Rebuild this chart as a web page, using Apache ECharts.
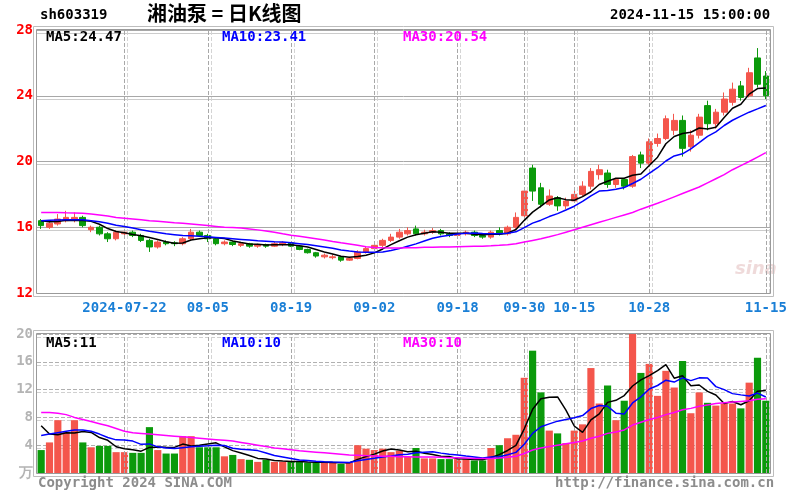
<!DOCTYPE html>
<html><head><meta charset="utf-8">
<script src="https://cdn.jsdelivr.net/npm/echarts/dist/echarts.min.js"></script>
<style>html,body{margin:0;padding:0;background:#fff}#c{width:800px;height:500px}</style>
</head><body><div id="c"></div>
<script>
const dates = [
'2024-07-08','2024-07-09','2024-07-10','2024-07-11','2024-07-12','2024-07-15','2024-07-16','2024-07-17','2024-07-18','2024-07-19',
'2024-07-22','2024-07-23','2024-07-24','2024-07-25','2024-07-26','2024-07-29','2024-07-30','2024-07-31','2024-08-01','2024-08-02',
'2024-08-05','2024-08-06','2024-08-07','2024-08-08','2024-08-09','2024-08-12','2024-08-13','2024-08-14','2024-08-15','2024-08-16',
'2024-08-19','2024-08-20','2024-08-21','2024-08-22','2024-08-23','2024-08-26','2024-08-27','2024-08-28','2024-08-29','2024-08-30',
'2024-09-02','2024-09-03','2024-09-04','2024-09-05','2024-09-06','2024-09-09','2024-09-10','2024-09-11','2024-09-12','2024-09-13',
'2024-09-18','2024-09-19','2024-09-20','2024-09-23','2024-09-24','2024-09-25','2024-09-26','2024-09-27','2024-09-30','2024-10-08',
'2024-10-09','2024-10-10','2024-10-11','2024-10-14','2024-10-15','2024-10-16','2024-10-17','2024-10-18','2024-10-21','2024-10-22',
'2024-10-23','2024-10-24','2024-10-25','2024-10-28','2024-10-29','2024-10-30','2024-10-31','2024-11-01','2024-11-04','2024-11-05',
'2024-11-06','2024-11-07','2024-11-08','2024-11-11','2024-11-12','2024-11-13','2024-11-14','2024-11-15'];

const openP = [16.4,16.0,16.2,16.4,16.5,16.6,15.85,16.0,15.6,15.3,
 15.6,15.7,15.5,15.2,14.8,15.1,15.05,15.0,15.3,15.7,
 15.5,15.3,15.0,15.1,14.9,15.0,14.85,14.95,14.85,14.95,
 15.05,14.85,14.65,14.45,14.2,14.15,14.2,14.0,14.1,14.5,
 14.7,14.9,15.2,15.4,15.6,15.9,15.6,15.7,15.8,15.6,
 15.5,15.6,15.7,15.5,15.4,15.8,15.6,16.0,16.7,19.6,
 18.4,17.4,17.8,17.3,17.6,18.0,18.5,19.2,19.3,18.6,
 18.9,18.5,20.4,19.9,21.1,21.4,21.9,22.5,20.9,21.6,
 23.4,22.3,23.0,23.6,24.6,24.0,26.3,25.2];
const closeP = [16.1,16.25,16.5,16.6,16.6,16.1,16.0,15.6,15.3,15.7,
 15.7,15.5,15.2,14.8,15.1,15.0,15.0,15.3,15.7,15.5,
 15.3,15.0,15.1,14.95,15.0,14.85,14.95,14.85,15.0,15.05,
 14.85,14.65,14.45,14.25,14.3,14.2,14.0,14.1,14.5,14.7,
 14.9,15.2,15.4,15.7,15.8,15.6,15.7,15.8,15.6,15.5,
 15.6,15.7,15.5,15.4,15.7,15.6,16.0,16.6,18.2,18.2,
 17.4,17.9,17.3,17.6,18.0,18.5,19.4,19.5,18.6,18.9,
 18.5,20.3,19.9,21.2,21.4,22.6,22.5,20.8,21.6,22.7,
 22.3,23.0,23.8,24.4,23.9,25.4,24.7,24.0];
const lowP = [15.9,15.9,16.1,16.3,16.3,16.0,15.7,15.5,15.1,15.2,
 15.4,15.4,15.1,14.5,14.7,14.9,14.85,14.9,15.2,15.4,
 15.1,14.9,14.9,14.85,14.8,14.75,14.75,14.75,14.8,14.85,
 14.8,14.6,14.4,14.15,14.1,14.05,13.9,13.95,14.05,14.4,
 14.6,14.8,15.1,15.3,15.5,15.5,15.5,15.6,15.5,15.4,
 15.4,15.5,15.4,15.3,15.3,15.5,15.5,15.9,16.6,17.6,
 17.2,17.3,17.0,17.1,17.5,17.9,18.3,18.9,18.4,18.4,
 18.3,18.4,19.6,19.8,20.9,21.3,21.6,20.3,20.6,21.4,
 21.9,22.0,22.8,23.4,23.7,23.9,24.5,23.8];
const highP = [16.5,16.4,16.8,17.0,16.9,16.7,16.1,16.1,15.7,15.8,
 15.9,15.8,15.6,15.3,15.2,15.2,15.15,15.4,15.9,15.8,
 15.6,15.35,15.2,15.15,15.1,15.05,15.0,15.0,15.1,15.15,
 15.1,14.9,14.7,14.5,14.4,14.35,14.25,14.2,14.6,14.8,
 15.0,15.3,15.6,15.9,16.0,16.1,15.85,15.95,15.9,15.7,
 15.7,15.8,15.8,15.6,15.8,16.0,16.1,16.9,18.25,19.8,
 18.7,18.3,17.9,17.8,18.4,18.8,19.6,19.8,19.5,19.0,
 19.0,20.4,20.6,21.4,21.7,22.8,22.9,22.8,21.9,22.9,
 23.7,23.2,24.2,24.8,24.9,25.7,26.9,25.5];
const volume = [3.3,4.4,7.6,5.9,7.6,4.4,3.7,3.9,3.9,3.0,
 3.0,2.9,2.9,6.6,3.3,2.8,2.8,5.3,5.3,3.7,
 3.7,3.7,2.4,2.6,2.0,1.9,1.6,1.9,1.6,1.6,
 1.6,1.6,1.5,1.5,1.5,1.5,1.3,1.5,4.0,3.5,
 3.3,3.5,3.0,3.2,2.3,3.6,2.1,2.1,2.0,2.0,
 2.0,2.0,1.8,1.8,3.6,4.0,5.0,5.5,13.7,17.6,
 11.6,6.1,5.7,4.3,6.1,7.0,15.1,10.0,12.6,7.6,
 10.4,22.0,14.4,15.7,11.1,14.7,12.3,16.1,8.6,11.6,
 10.1,9.7,10.0,10.0,9.3,13.0,16.6,10.4];

const ma5 = [16.4,16.33,16.35,16.42,16.41,16.41,16.36,16.18,15.92,15.74,
 15.66,15.56,15.48,15.38,15.26,15.12,15.02,15.04,15.22,15.3,
 15.36,15.36,15.32,15.17,15.07,14.98,14.97,14.92,14.93,14.94,
 14.94,14.88,14.8,14.65,14.5,14.37,14.24,14.17,14.22,14.3,
 14.44,14.68,14.94,15.18,15.4,15.54,15.64,15.72,15.7,15.64,
 15.64,15.64,15.58,15.54,15.58,15.58,15.64,15.86,16.42,16.92,
 17.28,17.66,17.8,17.68,17.64,17.86,18.16,18.6,18.8,18.98,
 18.98,19.16,19.24,19.76,20.26,21.08,21.52,21.7,21.78,22.04,
 21.98,22.08,22.68,23.24,23.48,24.1,24.44,24.47];
const ma10 = [16.4,16.42,16.44,16.46,16.46,16.45,16.4,16.33,16.24,16.12,
 16.05,15.95,15.85,15.75,15.68,15.6,15.55,15.5,15.48,15.45,
 15.42,15.38,15.34,15.3,15.26,15.22,15.18,15.15,15.12,15.1,
 15.05,15.0,14.95,14.88,14.8,14.72,14.62,14.55,14.5,14.48,
 14.48,14.5,14.58,14.7,14.85,14.99,15.16,15.33,15.44,15.52,
 15.59,15.64,15.65,15.62,15.61,15.61,15.64,15.72,15.98,16.25,
 16.43,16.65,16.83,17.05,17.28,17.57,17.91,18.2,18.24,18.31,
 18.42,18.66,18.92,19.28,19.62,20.03,20.34,20.47,20.77,21.15,
 21.53,21.8,22.19,22.51,22.76,23.0,23.2,23.41];
const ma30 = [16.9,16.9,16.9,16.88,16.87,16.85,16.8,16.75,16.68,16.6,
 16.55,16.5,16.45,16.4,16.36,16.32,16.28,16.25,16.2,16.15,
 16.1,16.05,16.0,15.98,15.95,15.9,15.84,15.77,15.69,15.6,
 15.52,15.45,15.38,15.3,15.22,15.13,15.05,14.98,14.9,14.82,
 14.77,14.75,14.74,14.74,14.75,14.76,14.78,14.79,14.8,14.8,
 14.82,14.83,14.84,14.85,14.87,14.9,14.94,15.0,15.1,15.2,
 15.3,15.42,15.55,15.7,15.85,16.0,16.15,16.3,16.45,16.6,
 16.75,16.9,17.1,17.28,17.46,17.65,17.85,18.05,18.25,18.45,
 18.7,18.95,19.2,19.5,19.75,20.0,20.27,20.54];

const volMa5 = [6.8,5.6,5.5,5.8,5.76,5.98,5.84,5.1,4.7,3.78,
 3.5,3.34,3.14,3.68,3.74,3.7,3.68,4.16,3.9,3.98,
 4.16,4.34,3.76,3.22,2.88,2.52,2.1,2.0,1.8,1.72,
 1.66,1.66,1.58,1.56,1.54,1.52,1.46,1.46,1.96,2.36,
 2.72,3.16,3.46,3.3,3.06,3.12,2.84,2.66,2.42,2.36,
 2.04,2.02,1.96,1.92,2.24,2.64,3.24,3.98,6.36,9.16,
 10.68,10.9,10.94,9.06,6.76,5.84,7.64,8.5,10.16,10.46,
 11.14,12.52,13.4,14.02,14.72,15.58,13.64,13.98,12.56,12.66,
 11.74,11.22,10.0,10.28,9.82,10.4,11.78,11.86];
const volMa10 = [5.4,5.6,5.8,6.0,6.2,6.2,6.0,5.6,5.1,4.77,
 4.74,4.59,4.12,4.19,3.76,3.6,3.51,3.65,3.79,3.86,
 3.93,4.01,3.96,3.56,3.43,3.34,3.22,2.88,2.51,2.3,
 2.09,1.88,1.79,1.68,1.63,1.59,1.56,1.52,1.76,1.95,
 2.12,2.31,2.46,2.63,2.71,2.92,3.0,3.06,2.86,2.71,
 2.58,2.43,2.31,2.17,2.3,2.34,2.63,2.97,4.14,5.7,
 6.66,7.07,7.46,7.71,7.96,8.26,9.27,9.72,9.61,8.61,
 8.49,10.08,10.95,12.09,12.59,13.36,13.08,13.69,13.29,13.69,
 13.66,12.43,11.99,11.42,11.24,11.07,11.5,10.93];
const volMa30 = [8.7,8.7,8.6,8.4,8.0,7.7,7.4,7.1,6.8,6.4,
 6.0,5.8,5.7,5.6,5.5,5.4,5.3,5.2,5.1,5.0,
 4.9,4.8,4.7,4.6,4.4,4.2,4.0,3.8,3.6,3.5,
 3.35,3.2,3.1,3.0,2.9,2.8,2.7,2.6,2.55,2.5,
 2.45,2.4,2.4,2.35,2.35,2.3,2.3,2.3,2.25,2.2,
 2.2,2.15,2.1,2.1,2.1,2.15,2.25,2.4,2.8,3.3,
 3.6,3.8,4.0,4.2,4.4,4.6,5.0,5.3,5.7,5.9,
 6.2,6.9,7.3,7.7,8.0,8.4,8.7,9.1,9.3,9.6,
 9.8,10.0,10.1,10.2,10.3,10.4,10.6,10.7];

const tickDates = ['2024-07-22','2024-08-05','2024-08-19','2024-09-02','2024-09-18','2024-09-30','2024-10-15','2024-10-28','2024-11-15'];
const tickText = ['2024-07-22','08-05','08-19','09-02','09-18','09-30','10-15','10-28','11-15'];
const priceLegend = ['MA5:24.47','MA10:23.41','MA30:20.54'];
const volLegend = ['MA5:11','MA10:10','MA30:10'];
const volZeroLabel = '万';

const RED = '#f4564c', GREEN = '#0b9a0b';
const MONO = '"DejaVu Sans Mono", monospace';
const candle = dates.map((d, i) => [openP[i], closeP[i], lowP[i], highP[i]]);

const vline = {
  silent: true, symbol: ['none', 'none'], label: { show: false },
  lineStyle: { color: '#a8a8a8', type: 'dashed', width: 1, shadowColor: '#d4d4d4', shadowOffsetX: 3, shadowBlur: 0 },
  emphasis: { disabled: true },
  data: tickDates.map(d => ({ xAxis: d }))
};
const maLine = (name, data, color, xi) => ({
  name, type: 'line', data, xAxisIndex: xi, yAxisIndex: xi, symbol: 'none', showSymbol: false,
  lineStyle: { color, width: 1.5 }, itemStyle: { color }, z: 5, silent: true
});
const txt = (x, y, text, fill, size, family, extra) => Object.assign({
  type: 'text', left: x, top: y, silent: true, z: 20,
  style: { text, fill, font: 'bold ' + size + 'px ' + family }
}, extra || {});
const frame = (x, y, w, h, c) => ({ type: 'rect', silent: true, z: 15, shape: { x, y, width: w, height: h }, style: { fill: 'none', stroke: c, lineWidth: 1 } });

const chart = echarts.init(document.getElementById('c'));
chart.setOption({
  animation: false,
  backgroundColor: '#ffffff',
  grid: [
    { left: 37, top: 30, width: 733, height: 263 },
    { left: 37, top: 334, width: 733, height: 139 }
  ],
  xAxis: [
    { type: 'category', gridIndex: 0, data: dates, boundaryGap: true,
      axisLine: { show: false }, axisTick: { show: false }, splitLine: { show: false },
      axisLabel: { interval: (i, v) => tickDates.indexOf(v) >= 0, formatter: v => tickText[tickDates.indexOf(v)],
        color: '#1a7fd6', fontFamily: MONO, fontWeight: 'bold', fontSize: 14, margin: 8 } },
    { type: 'category', gridIndex: 1, data: dates, boundaryGap: true,
      axisLine: { show: false }, axisTick: { show: false }, splitLine: { show: false }, axisLabel: { show: false } }
  ],
  yAxis: [
    { type: 'value', gridIndex: 0, min: 12, max: 28, interval: 4,
      axisLine: { show: false }, axisTick: { show: false },
      axisLabel: { color: '#ff0000', fontFamily: MONO, fontWeight: 'bold', fontSize: 14, margin: 4 },
      splitLine: { show: true, lineStyle: { color: '#a8a8a8', width: 1, shadowColor: '#cccccc', shadowOffsetY: 3, shadowBlur: 0 } } },
    { type: 'value', gridIndex: 1, min: 0, max: 20, interval: 4,
      axisLine: { show: false }, axisTick: { show: false },
      axisLabel: { color: '#b4b4b4', fontFamily: MONO, fontWeight: 'bold', fontSize: 14, margin: 4,
        formatter: v => v === 0 ? volZeroLabel : String(v) },
      splitLine: { show: true, lineStyle: { color: '#b0b0b0', width: 1, type: 'dashed', shadowColor: '#d0d0d0', shadowOffsetY: 3, shadowBlur: 0 } } }
  ],
  series: [
    { type: 'line', xAxisIndex: 0, yAxisIndex: 0, data: [], z: 1, markLine: vline },
    { type: 'line', xAxisIndex: 1, yAxisIndex: 1, data: [], z: 1, markLine: vline },
    { name: 'K', type: 'candlestick', xAxisIndex: 0, yAxisIndex: 0, data: candle, barWidth: '74%', z: 3,
      itemStyle: { color: RED, color0: GREEN, borderColor: RED, borderColor0: GREEN, borderWidth: 1 } },
    maLine('MA5', ma5, '#000000', 0),
    maLine('MA10', ma10, '#0000ff', 0),
    maLine('MA30', ma30, '#ff00ff', 0),
    { name: 'VOL', type: 'bar', xAxisIndex: 1, yAxisIndex: 1, data: volume, barWidth: '86%', z: 3,
      itemStyle: { color: p => closeP[p.dataIndex] >= openP[p.dataIndex] ? RED : GREEN } },
    maLine('VMA5', volMa5, '#000000', 1),
    maLine('VMA10', volMa10, '#0000ff', 1),
    maLine('VMA30', volMa30, '#ff00ff', 1)
  ],
  graphic: [
    frame(36.5, 29.5, 734, 264, '#9a9a9a'),
    frame(33.5, 26.5, 740, 270, '#bdbdbd'),
    frame(36.5, 333.5, 734, 140, '#9a9a9a'),
    frame(33.5, 330.5, 740, 146, '#bdbdbd'),
    txt(40, 8, 'sh603319', '#000000', 14, MONO),
    txt(147, 3, '湘油泵 = 日K线图', '#000000', 20, '"Noto Sans CJK SC", sans-serif'),
    txt(610, 8, '2024-11-15 15:00:00', '#000000', 14, MONO),
    txt(46, 30, priceLegend[0], '#000000', 14, MONO),
    txt(222, 30, priceLegend[1], '#0000ff', 14, MONO),
    txt(403, 30, priceLegend[2], '#ff00ff', 14, MONO),
    txt(46, 336, volLegend[0], '#000000', 14, MONO),
    txt(222, 336, volLegend[1], '#0000ff', 14, MONO),
    txt(403, 336, volLegend[2], '#ff00ff', 14, MONO),
    txt(38, 476, 'Copyright 2024 SINA.COM', '#8c8c8c', 14, MONO),
    txt(555, 476, 'http://finance.sina.com.cn', '#8c8c8c', 14, MONO),
    { type: 'text', left: 735, top: 260, silent: true, z: 2,
      style: { text: 'sina', fill: 'rgba(210,150,150,0.35)', font: 'italic bold 18px "DejaVu Sans", sans-serif' } }
  ]
});
</script>
</body></html>
